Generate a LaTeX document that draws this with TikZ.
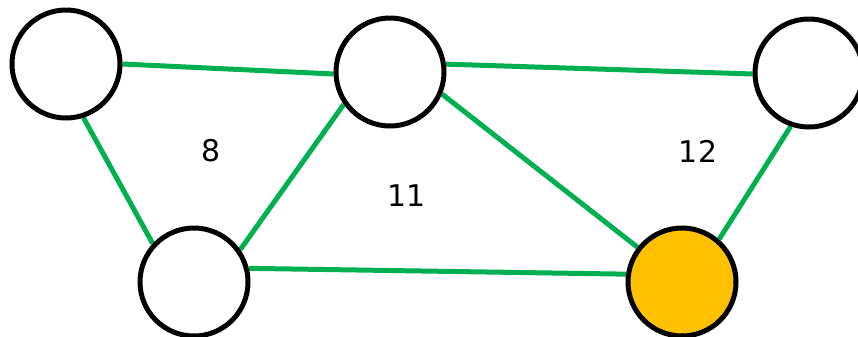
\documentclass[tikz,border=0pt]{standalone}
\usepackage{fontspec}
\setmainfont{DejaVu Sans}
\usetikzlibrary{backgrounds}
\definecolor{edgegreen}{HTML}{00B050}
\definecolor{nodeyellow}{HTML}{FFC000}
\tikzset{
  vertex/.style={circle,draw=black,line width=5bp,fill=white,minimum size=108bp,inner sep=0pt},
  hot/.style={vertex,fill=nodeyellow},
  edge/.style={draw=edgegreen,line width=5bp},
  weight/.style={font=\fontsize{30}{36}\selectfont,inner sep=0pt}
}
\begin{document}
\begin{tikzpicture}[x=1bp,y=-1bp]
\useasboundingbox (0,0) rectangle (858,336);
\node[vertex] (A) at (66,64) {};
\node[vertex] (B) at (390,72) {};
\node[vertex] (C) at (809,73) {};
\node[vertex] (D) at (194,282) {};
\node[hot] (E) at (682,282) {};
\begin{pgfonlayer}{background}
\draw[edge] (A.0) -- (B.182);
\draw[edge] (A.-72) -- (D.137);
\draw[edge] (D.35) -- (B.215);
\draw[edge] (D.14) -- (E.172);
\draw[edge] (B.-23) -- (E.142);
\draw[edge] (B.8) -- (C.181);
\draw[edge] (C.251) -- (E.49);
\end{pgfonlayer}
\node[weight] (w8) at (211,151) {8};
\node[weight] (w11) at (407,196) {11};
\node[weight] (w12) at (698,151) {12};
\end{tikzpicture}
\end{document}
